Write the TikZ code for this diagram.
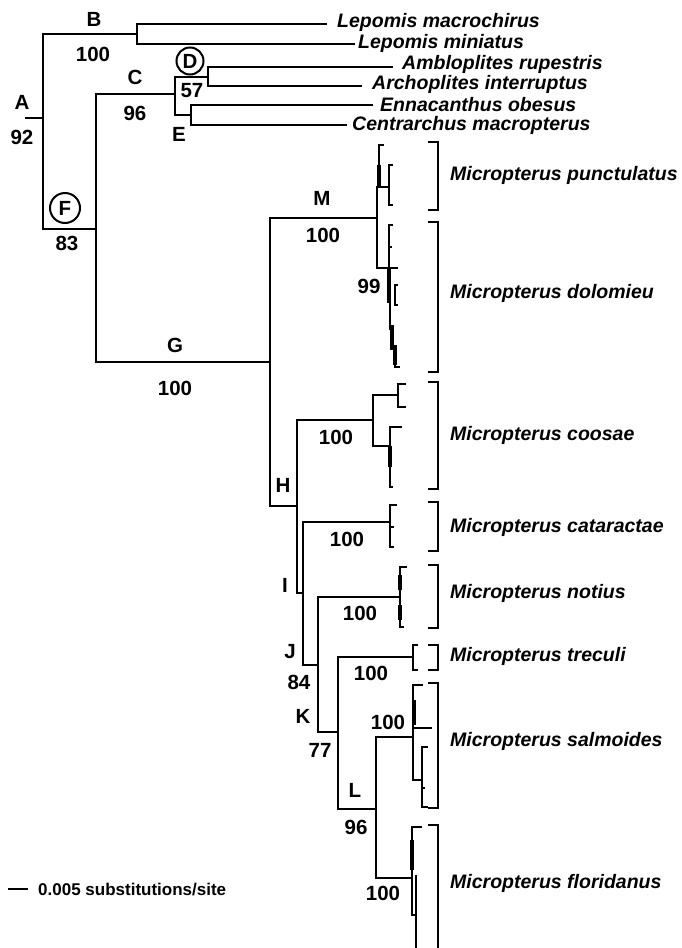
\documentclass[tikz,border=0pt]{standalone}
\usepackage{fontspec}
\setmainfont{Liberation Sans}
\begin{document}
\begin{tikzpicture}[x=1pt, y=-1pt,
    branch/.style={line width=2.8pt},
    twig/.style={line width=2pt},
    fat/.style={line width=4.6pt},
    bracket/.style={line width=1.4pt},
    lab/.style={font=\fontsize{20.5}{24}\selectfont\bfseries, inner sep=0pt},
    taxon/.style={font=\fontsize{19.5}{23}\selectfont\bfseries\itshape, anchor=west, inner sep=0pt},
    ring/.style={draw, circle, line width=2pt, minimum size=27pt, inner sep=0pt,
        font=\fontsize{20.5}{24}\selectfont\bfseries}]
    \useasboundingbox (0,0) rectangle (681,948);

    % internal nodes
    \coordinate (root) at (25,118);
    \coordinate (A) at (43,118);
    \coordinate (B) at (137,34);
    \coordinate (F) at (96,229);
    \coordinate (C) at (175,94);
    \coordinate (D) at (208,77);
    \coordinate (E) at (191,115);
    \coordinate (G) at (270,362);
    \coordinate (M) at (377,218);
    \coordinate (H) at (297,506);
    \coordinate (I) at (303,593);
    \coordinate (J) at (318,665);
    \coordinate (K) at (338,732);
    \coordinate (L) at (376,809);
    \coordinate (coo) at (373,420);

    % tips
    \coordinate (lmac) at (327,24);
    \coordinate (lmin) at (355,44);
    \coordinate (arup) at (393,67);
    \coordinate (aint) at (362,86);
    \coordinate (eobe) at (373,105);
    \coordinate (cmac) at (347,125);
    \coordinate (pun) at (389,187);
    \coordinate (dol) at (398,268);
    \coordinate (coo1) at (398,395);
    \coordinate (coo2) at (390,446);
    \coordinate (cat) at (390,522);
    \coordinate (not) at (400,597);
    \coordinate (tre) at (413,657);
    \coordinate (sal) at (413,737);
    \coordinate (flo) at (412,878);

    % outgroups
    \draw[branch] (root) -- (A);
    \draw[branch] (A) |- (B);
    \draw[branch] (A) |- (F);
    \draw[branch] (B) |- (lmac);
    \draw[branch] (B) |- (lmin);
    \draw[branch] (F) |- (C);
    \draw[branch] (F) |- (G);
    \draw[branch] (C) |- (D);
    \draw[branch] (C) |- (E);
    \draw[branch] (D) |- (arup);
    \draw[branch] (D) |- (aint);
    \draw[branch] (E) |- (eobe);
    \draw[branch] (E) |- (cmac);

    % Micropterus
    \draw[branch] (G) |- (M);
    \draw[branch] (G) |- (H);
    \draw[branch] (M) |- (pun);
    \draw[branch] (M) |- (dol);
    \draw[branch] (H) |- (coo);
    \draw[branch] (H) |- (I);
    \draw[branch] (coo) |- (coo1);
    \draw[branch] (coo) |- (coo2);
    \draw[branch] (I) |- (cat);
    \draw[branch] (I) |- (J);
    \draw[branch] (J) |- (not);
    \draw[branch] (J) |- (K);
    \draw[branch] (K) |- (tre);
    \draw[branch] (K) |- (L);
    \draw[branch] (L) |- (sal);
    \draw[branch] (L) |- (flo);

    % haplotype combs
    \draw[twig] (384,145) -- (379,145) -- (379,187);
    \draw[fat] (379,165) -- (379,187);
    \draw[twig] (393,165) -- (389,165) -- (389,205) -- (393,205);
    \draw[twig] (393,225) -- (389,225) -- (389,268);
    \draw[twig] (389,247) -- (392,247);
    \draw[fat] (389,268) -- (389,303);
    \draw[twig] (398,285) -- (395,285) -- (395,305) -- (398,305);
    \draw[twig] (390,303) -- (390,330);
    \draw[fat] (392,325) -- (392,350);
    \draw[fat] (395,345) -- (395,365);
    \draw[twig] (395,360) -- (395,367) -- (400,367);
    \draw[twig] (406,384) -- (398,384) -- (398,407) -- (406,407);
    \draw[twig] (402,427) -- (390,427) -- (390,487) -- (393,487);
    \draw[fat] (390,446) -- (390,467);
    \draw[twig] (397,505) -- (390,505) -- (390,547) -- (394,547);
    \draw[twig] (390,527) -- (394,527);
    \draw[twig] (407,567) -- (400,567) -- (400,627) -- (404,627);
    \draw[fat] (400,575) -- (400,590);
    \draw[fat] (400,605) -- (400,620);
    \draw[twig] (418,645) -- (413,645) -- (413,670) -- (418,670);
    \draw[twig] (423,685) -- (413,685) -- (413,780) -- (422,780);
    \draw[fat] (414,700) -- (414,725);
    \draw[twig] (413,728) -- (432,728);
    \draw[twig] (428,747) -- (422,747) -- (422,807) -- (428,807);
    \draw[twig] (422,788) -- (425,788);
    \draw[twig] (422,827) -- (412,827) -- (412,915) -- (416,915);
    \draw[fat] (412,840) -- (412,870);
    \draw[twig] (416,875) -- (416,948);

    % species brackets
    \foreach \t/\b in {142/210, 222/372, 382/489, 502/551, 565/628, 645/670, 683/808, 825/958}
        \draw[bracket] (428,\t) -- (438,\t) -- (438,\b) -- (428,\b);

    % taxa
    \node[taxon] (tlmac) at (337,22) {Lepomis macrochirus};
    \node[taxon] (tlmin) at (358,43) {Lepomis miniatus};
    \node[taxon] (tarup) at (402,64) {Ambloplites rupestris};
    \node[taxon] (taint) at (372,84) {Archoplites interruptus};
    \node[taxon] (teobe) at (380,105) {Ennacanthus obesus};
    \node[taxon] (tcmac) at (352,125) {Centrarchus macropterus};
    \foreach \y/\sp in {175/punctulatus, 293/dolomieu, 435/coosae, 527/cataractae,
        593/notius, 656/treculi, 741/salmoides, 883/floridanus}
        \node[taxon] (t\sp) at (450,\y) {Micropterus \sp};

    % node labels and support values
    \node[lab] (labA) at (22,102) {A};
    \node[lab] (supA) at (22,137) {92};
    \node[lab] (labB) at (94,19) {B};
    \node[lab] (supB) at (93,54) {100};
    \node[lab] (labC) at (135,77) {C};
    \node[lab] (supC) at (135,113) {96};
    \node[ring] (labD) at (190,61) {D};
    \node[lab] (supD) at (192,91) {57};
    \node[lab] (labE) at (179,134) {E};
    \node[ring, minimum size=30pt] (labF) at (65,208) {F};
    \node[lab] (supF) at (67,243) {83};
    \node[lab] (labG) at (175,345) {G};
    \node[lab] (supG) at (175,388) {100};
    \node[lab] (labM) at (322,198) {M};
    \node[lab] (supM) at (323,235) {100};
    \node[lab] (supdol) at (369,286) {99};
    \node[lab] (supcoo) at (336,437) {100};
    \node[lab] (labH) at (283,485) {H};
    \node[lab] (supcat) at (347,539) {100};
    \node[lab] (labI) at (285,585) {I};
    \node[lab] (supnot) at (360,613) {100};
    \node[lab] (labJ) at (290,652) {J};
    \node[lab] (supJ) at (299,682) {84};
    \node[lab] (suptre) at (371,673) {100};
    \node[lab] (labK) at (303,716) {K};
    \node[lab] (supsal) at (388,722) {100};
    \node[lab] (supK) at (320,750) {77};
    \node[lab] (labL) at (355,790) {L};
    \node[lab] (supL) at (356,827) {96};
    \node[lab] (supflo) at (383,893) {100};

    % scale bar
    \coordinate (barL) at (8,889);
    \coordinate (barR) at (28,889);
    \draw[line width=1.4pt] (barL) -- (barR);
    \node[anchor=west, inner sep=0pt, font=\fontsize{17}{20}\selectfont\bfseries] (scale) at (38,889) {0.005 substitutions/site};
\end{tikzpicture}
\end{document}
